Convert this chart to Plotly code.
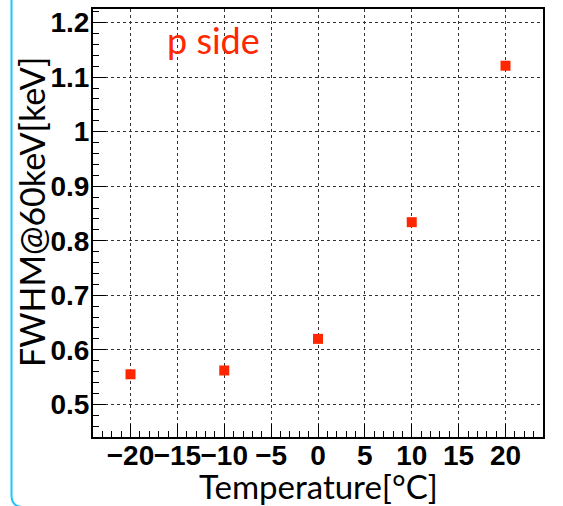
import plotly.graph_objects as go

# Data
temperature = [-20, -10, 0, 10, 20]
fwhm = [0.555, 0.562, 0.620, 0.834, 1.121]

x_ticks = [-20, -15, -10, -5, 0, 5, 10, 15, 20]
y_ticks = [0.5, 0.6, 0.7, 0.8, 0.9, 1.0, 1.1, 1.2]
y_ticklabels = ["0.5", "0.6", "0.7", "0.8", "0.9", "1", "1.1", "1.2"]

W, H = 563, 506
L, R, T, B = 93, 20, 9, 69
pw, ph = W - L - R, H - T - B


def px(xp):
    return (xp - L) / pw


def py(yp):
    return (H - B - yp) / ph


RED = "#ff2600"
fig = go.Figure()
fig.add_trace(go.Scatter(
    x=temperature, y=fwhm, mode="markers",
    marker=dict(symbol="square", size=10, color=RED, line=dict(width=0)),
    showlegend=False,
))

axis_common = dict(
    showline=True, linecolor="black", linewidth=2, mirror=True,
    ticks="inside", tickcolor="black", tickwidth=1, ticklen=13,
    showgrid=True, gridcolor="#333333", gridwidth=1, griddash="dot",
    zeroline=False,
    tickfont=dict(family="Liberation Sans", size=28, color="black", weight="bold"),
)

fig.update_xaxes(
    range=[-24, 24], tickmode="array", tickvals=x_ticks, tickangle=0,
    ticklabelstandoff=-8,
    minor=dict(dtick=1, tick0=0, ticks="inside", ticklen=6, tickcolor="black", showgrid=False),
    **axis_common,
)
fig.update_yaxes(
    range=[0.44, 1.225], tickmode="array", tickvals=y_ticks, ticktext=y_ticklabels,
    ticklabelstandoff=-4,
    minor=dict(dtick=0.02, tick0=0, ticks="inside", ticklen=6, tickcolor="black", showgrid=False),
    **axis_common,
)

fig.add_annotation(
    text="FWHM@60keV[keV]", xref="paper", yref="paper",
    x=px(31), y=py(212), textangle=-90, showarrow=False,
    xanchor="center", yanchor="middle", font=dict(family="Lato", size=34, color="black"),
)
fig.add_annotation(
    text="Temperature[°C]", xref="paper", yref="paper",
    x=px(318), y=py(486), showarrow=False,
    xanchor="center", yanchor="middle", font=dict(family="Lato", size=33, color="black"),
)
fig.add_annotation(
    text="p side", xref="paper", yref="paper",
    x=px(165), y=py(40), showarrow=False,
    xanchor="left", yanchor="middle", font=dict(family="Lato", size=36, color=RED),
)
fig.add_annotation(
    text="Energy", xref="paper", yref="paper",
    x=px(247), y=py(-18), showarrow=False,
    xanchor="right", yanchor="middle", font=dict(family="Lato", size=30, color="black"),
)

# cyan frame at the left/bottom
fig.add_shape(
    type="path", xref="paper", yref="paper",
    path=f"M {px(11.5)},{py(-10)} L {px(11.5)},{py(495)} Q {px(11.5)},{py(507)} {px(23)},{py(507)} L {px(560)},{py(507)}",
    line=dict(color="#19c6ff", width=2),
)

fig.update_layout(
    width=W, height=H, margin=dict(l=L, r=R, t=T, b=B, autoexpand=False),
    paper_bgcolor="white", plot_bgcolor="white",
)

fig.write_html("out.html")
